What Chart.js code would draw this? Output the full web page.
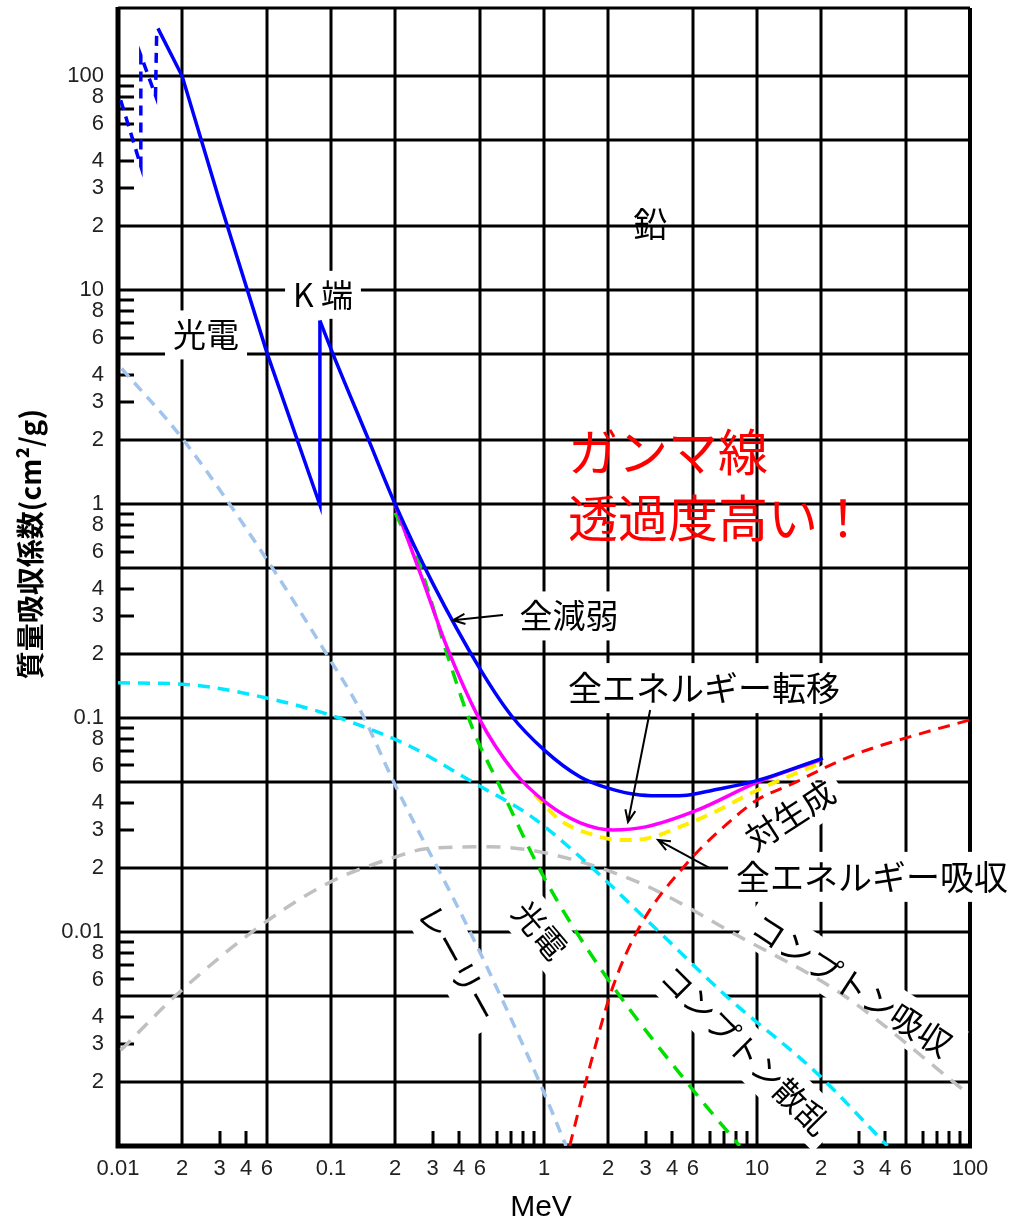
<!DOCTYPE html>
<html>
<head>
<meta charset="utf-8">
<script src="https://cdn.jsdelivr.net/npm/chart.js@4.4.1/dist/chart.umd.min.js"></script>
<style>
html, body { margin: 0; padding: 0; background: #fff; }
canvas { display: block; }
</style>
</head>
<body>
<canvas id="myChart" width="1028" height="1221"></canvas>
<script>
// 鉛の質量吸収係数 (cm2/g) - エネルギー (MeV)、図から読み取った値
const lEdgeE = [0.0103, 0.0128, 0.0128, 0.0150, 0.0152];
const lEdgeMu = [77, 38, 125, 81, 165];

const totalLowE = [0.0154, 0.02, 0.03, 0.05, 0.0887, 0.0887];
const totalLowMu = [167, 100, 26, 5.1, 0.99, 7.2];

const totalE = [0.0887, 0.1, 0.15, 0.2, 0.3, 0.5, 0.7, 1.0, 1.48, 2.0, 2.82, 3.8, 4.69, 6.2, 10, 20.4];
const totalMu = [7.2, 5.3, 2.0, 1.0, 0.427, 0.170, 0.103, 0.071, 0.053, 0.047, 0.0437, 0.0433, 0.0436, 0.046, 0.051, 0.065];

const transferE = [0.2, 0.27, 0.35, 0.5, 0.714, 1.03, 1.48, 2.11, 3.0, 5.2, 10, 20];
const transferMu = [0.99, 0.44, 0.215, 0.098, 0.057, 0.040, 0.0324, 0.030, 0.031, 0.037, 0.050, 0.064];

const absorbE = [0.9, 1.19, 1.6, 2.3, 3.0, 4.35, 6.2, 10, 20];
const absorbMu = [0.044, 0.0333, 0.029, 0.0269, 0.0273, 0.031, 0.036, 0.046, 0.0617];

const photoE = [0.2, 0.262, 0.35, 0.465, 0.62, 1.0, 1.89, 5.0, 8.3];
const photoMu = [0.91, 0.51, 0.20, 0.088, 0.048, 0.018, 0.0065, 0.00183, 0.001];

const comptonE = [0.01, 0.02, 0.05, 0.1, 0.17, 0.24, 0.465, 0.86, 1.48, 3.15, 7.2, 19, 41];
const comptonMu = [0.146, 0.144, 0.124, 0.103, 0.085, 0.073, 0.050, 0.035, 0.0224, 0.011, 0.005, 0.0022, 0.001];

const rayleighE = [0.0104, 0.02, 0.05, 0.095, 0.137, 0.2, 0.45, 0.95, 1.27];
const rayleighMu = [4.3, 2.03, 0.55, 0.20, 0.109, 0.0487, 0.01, 0.002, 0.001];

const comptonAbsE = [0.0103, 0.0193, 0.0485, 0.099, 0.2, 0.28, 0.55, 1.0, 2.8, 8.3, 24.5, 93];
const comptonAbsMu = [0.0028, 0.0052, 0.011, 0.0171, 0.0224, 0.0245, 0.025, 0.0235, 0.017, 0.0095, 0.0052, 0.00183];

const pairE = [1.32, 1.66, 2.1, 2.8, 4.7, 8.3, 10, 15.4, 20, 30.5, 50.6, 100];
const pairMu = [0.001, 0.00245, 0.0055, 0.0105, 0.021, 0.036, 0.0414, 0.0504, 0.0575, 0.069, 0.081, 0.098];

// 目盛り
const xTickVals = [0.01, 0.02, 0.03, 0.04, 0.05, 0.1, 0.2, 0.3, 0.4, 0.5, 1, 2, 3, 4, 5, 10, 20, 30, 40, 50, 100];
const xTickLabels = ['0.01', '2', '3', '4', '6', '0.1', '2', '3', '4', '6', '1', '2', '3', '4', '6', '10', '2', '3', '4', '6', '100'];
const yTickVals = [100, 80, 60, 40, 30, 20, 10, 8, 6, 4, 3, 2, 1, 0.8, 0.6, 0.4, 0.3, 0.2,
                   0.1, 0.08, 0.06, 0.04, 0.03, 0.02, 0.01, 0.008, 0.006, 0.004, 0.003, 0.002];
const yTickLabels = ['100', '8', '6', '4', '3', '2', '10', '8', '6', '4', '3', '2', '1', '8', '6', '4', '3', '2',
                     '0.1', '8', '6', '4', '3', '2', '0.01', '8', '6', '4', '3', '2'];
const xGrid = [0.02, 0.05, 0.1, 0.2, 0.5, 1, 2, 5, 10, 20, 50];
const yGrid = [0.002, 0.005, 0.01, 0.02, 0.05, 0.1, 0.2, 0.5, 1, 2, 5, 10, 20, 50, 100];
const xMinor = [0.03, 0.04, 0.3, 0.4, 0.6, 0.7, 0.8, 0.9, 3, 4, 6, 7, 8, 9, 30, 40, 60, 70, 80, 90];
const yMinor = [90, 80, 70, 60, 40, 30, 9, 8, 7, 6, 4, 3, 0.9, 0.8, 0.7, 0.6, 0.4, 0.3,
                0.09, 0.08, 0.07, 0.06, 0.04, 0.03, 0.009, 0.008, 0.007, 0.006, 0.004, 0.003];

const JP = '"Noto Sans CJK JP", sans-serif';

// 注記 (データ座標で配置)
const notes = [
  { text: '鉛', e: 3.15, mu: 20.3, size: 34, rot: 0, box: false },
  { text: 'K 端', e: 0.0917, mu: 9.5, size: 32, rot: 0, box: true },
  { text: '光電', e: 0.0259, mu: 6.17, size: 33, rot: 0, box: true },
  { text: '全減弱', e: 1.31, mu: 0.30, size: 33, rot: 0, box: true },
  { text: '全エネルギー転移', e: 5.64, mu: 0.138, size: 34, rot: 0, box: true },
  { text: '全エネルギー吸収', e: 34.7, mu: 0.0181, size: 34, rot: 0, box: true },
  { text: '対生成', e: 14.3, mu: 0.0352, size: 33, rot: -33, box: true },
  { text: 'コンプトン吸収', e: 27.9, mu: 0.00565, size: 33, rot: 33, box: true },
  { text: 'コンプトン散乱', e: 8.8, mu: 0.00281, size: 32, rot: 45, box: true },
  { text: '光電', e: 0.958, mu: 0.0102, size: 32, rot: 50, box: true },
  { text: 'レーリー', e: 0.394, mu: 0.00716, size: 32, rot: 61, box: true },
  { text: 'ガンマ線', e: 1.296, mu: 1.75, size: 50, rot: 0, box: false, color: '#ff0000', left: true },
  { text: '透過度高い！', e: 1.296, mu: 0.86, size: 50, rot: 0, box: false, color: '#ff0000', left: true }
];

const arrows = [
  { from: [0.642, 0.303], to: [0.374, 0.2866] },
  { from: [3.15, 0.109], to: [2.48, 0.0327] },
  { from: [6.0, 0.0199], to: [3.43, 0.0269] }
];

function pts(es, mus) {
  return es.map((e, i) => ({ x: e, y: mus[i] }));
}

function curve(label, es, mus, color, width, dash, smooth) {
  return {
    label: label,
    data: pts(es, mus),
    borderColor: color,
    borderWidth: width,
    borderDash: dash || [],
    pointRadius: 0,
    fill: false,
    tension: smooth ? 0.4 : 0,
    cubicInterpolationMode: smooth ? 'monotone' : 'default'
  };
}

const paperGrid = {
  id: 'paperGrid',
  beforeDatasetsDraw(chart) {
    const { ctx, chartArea: a, scales: { x, y } } = chart;
    ctx.save();
    ctx.strokeStyle = '#000';
    ctx.lineWidth = 3;
    ctx.beginPath();
    xGrid.forEach(v => {
      const px = Math.round(x.getPixelForValue(v));
      ctx.moveTo(px, a.top); ctx.lineTo(px, a.bottom);
    });
    yGrid.forEach(v => {
      const py = Math.round(y.getPixelForValue(v));
      ctx.moveTo(a.left, py); ctx.lineTo(a.right, py);
    });
    ctx.stroke();

    ctx.beginPath();
    xMinor.forEach(v => {
      const px = Math.round(x.getPixelForValue(v));
      ctx.moveTo(px, a.bottom); ctx.lineTo(px, a.bottom - 15);
    });
    yMinor.forEach(v => {
      const py = Math.round(y.getPixelForValue(v));
      ctx.moveTo(a.left, py); ctx.lineTo(a.left + 16, py);
    });
    ctx.stroke();

    // 枠
    ctx.lineWidth = 3;
    ctx.beginPath();
    ctx.moveTo(a.left, a.top); ctx.lineTo(a.right, a.top);
    ctx.stroke();
    ctx.lineWidth = 4;
    ctx.beginPath();
    ctx.moveTo(a.right, a.top); ctx.lineTo(a.right, a.bottom);
    ctx.stroke();
    ctx.lineWidth = 5;
    ctx.beginPath();
    ctx.moveTo(a.left, a.top - 1); ctx.lineTo(a.left, a.bottom);
    ctx.lineTo(a.right + 2, a.bottom);
    ctx.stroke();

    // 注記の白地
    notes.filter(n => n.box).forEach(n => {
      ctx.save();
      ctx.font = n.size + 'px ' + JP;
      const w = ctx.measureText(n.text).width;
      ctx.translate(x.getPixelForValue(n.e), y.getPixelForValue(n.mu));
      ctx.rotate(n.rot * Math.PI / 180);
      ctx.fillStyle = '#fff';
      ctx.fillRect(-w / 2 - 8, -n.size / 2 - 8, w + 16, n.size + 16);
      ctx.restore();
    });
    ctx.restore();
  },
  afterDatasetsDraw(chart) {
    const { ctx, chartArea: a, scales: { x, y } } = chart;
    ctx.save();
    ctx.textBaseline = 'middle';
    notes.forEach(n => {
      ctx.save();
      ctx.font = n.size + 'px ' + JP;
      ctx.fillStyle = n.color || '#000';
      ctx.textAlign = n.left ? 'left' : 'center';
      ctx.translate(x.getPixelForValue(n.e), y.getPixelForValue(n.mu));
      ctx.rotate(n.rot * Math.PI / 180);
      ctx.fillText(n.text, 0, 0);
      ctx.restore();
    });

    ctx.strokeStyle = '#000';
    ctx.lineWidth = 2;
    arrows.forEach(ar => {
      const x1 = x.getPixelForValue(ar.from[0]), y1 = y.getPixelForValue(ar.from[1]);
      const x2 = x.getPixelForValue(ar.to[0]), y2 = y.getPixelForValue(ar.to[1]);
      const ang = Math.atan2(y2 - y1, x2 - x1);
      ctx.beginPath();
      ctx.moveTo(x1, y1); ctx.lineTo(x2, y2);
      ctx.moveTo(x2 - 13 * Math.cos(ang - 0.4), y2 - 13 * Math.sin(ang - 0.4));
      ctx.lineTo(x2, y2);
      ctx.lineTo(x2 - 13 * Math.cos(ang + 0.4), y2 - 13 * Math.sin(ang + 0.4));
      ctx.stroke();
    });

    // 軸タイトル
    ctx.fillStyle = '#000';
    ctx.textAlign = 'center';
    ctx.font = '30px "Liberation Sans", sans-serif';
    ctx.fillText('MeV', x.getPixelForValue(0.968), a.bottom + 62);
    ctx.save();
    ctx.translate(a.left - 88, y.getPixelForValue(0.65));
    ctx.rotate(-Math.PI / 2);
    ctx.font = 'bold 28px ' + JP;
    ctx.fillText('質量吸収係数(cm²/g)', 0, 0);
    ctx.restore();
    ctx.restore();
  }
};

function noEdgePadding(s) {
  s.paddingTop = 0;
  s.paddingBottom = 0;
  s.paddingLeft = 0;
  s.paddingRight = 0;
}

const ctx = document.getElementById('myChart').getContext('2d');
const myChart = new Chart(ctx, {
  type: 'line',
  data: {
    datasets: [
      curve('全減弱', totalE, totalMu, '#0000ff', 3.5, null, true),
      curve('全減弱(K端以下)', totalLowE, totalLowMu, '#0000ff', 3.5, null, false),
      curve('L端', lEdgeE, lEdgeMu, '#0000ff', 3.5, [10, 7], false),
      curve('全エネルギー転移', transferE, transferMu, '#ff00ff', 3.5, null, true),
      curve('全エネルギー吸収', absorbE, absorbMu, '#ffee00', 4, [12, 8], true),
      curve('光電', photoE, photoMu, '#00e000', 3.5, [14, 10], true),
      curve('対生成', pairE, pairMu, '#ff0000', 3, [12, 8], true),
      curve('コンプトン散乱', comptonE, comptonMu, '#00e8ff', 3.5, [12, 8], true),
      curve('コンプトン吸収', comptonAbsE, comptonAbsMu, '#c0c0c0', 3.5, [14, 10], true),
      curve('レーリー', rayleighE, rayleighMu, '#a0c4ec', 3.5, [11, 8], true)
    ]
  },
  options: {
    responsive: false,
    animation: false,
    layout: { padding: { left: 0, right: 58, top: 8, bottom: 0 } },
    plugins: { legend: { display: false }, tooltip: { enabled: false } },
    scales: {
      x: {
        type: 'logarithmic',
        min: 0.01,
        max: 100,
        grid: { display: false, drawTicks: false },
        border: { display: false },
        afterBuildTicks: s => { s.ticks = xTickVals.map(v => ({ value: v })); },
        afterFit: s => { s.height = 75; noEdgePadding(s); },
        ticks: {
          autoSkip: false,
          maxRotation: 0,
          padding: 10,
          color: '#222',
          font: { family: '"Liberation Sans", sans-serif', size: 22 },
          callback: (v, i) => xTickLabels[i]
        }
      },
      y: {
        type: 'logarithmic',
        min: 0.001,
        max: 208,
        grid: { display: false, drawTicks: false },
        border: { display: false },
        afterBuildTicks: s => { s.ticks = yTickVals.map(v => ({ value: v })); },
        afterFit: s => { s.width = 118; noEdgePadding(s); },
        ticks: {
          autoSkip: false,
          padding: 14,
          color: '#222',
          font: { family: '"Liberation Sans", sans-serif', size: 22 },
          callback: (v, i) => yTickLabels[i]
        }
      }
    }
  },
  plugins: [paperGrid]
});
</script>
</body>
</html>
